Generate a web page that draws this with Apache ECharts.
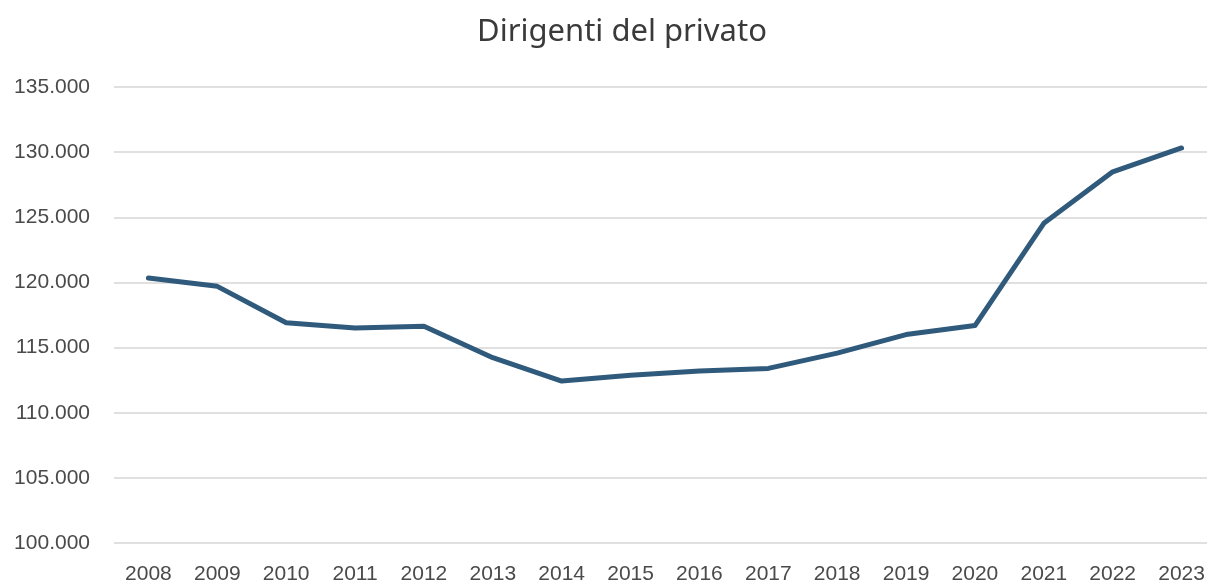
<!DOCTYPE html>
<html lang="it">
<head>
    <meta charset="UTF-8">
    <title>Dirigenti del privato</title>
    <style>
        body {
            margin: 0;
            background: #fff;
            overflow: hidden;
        }
        /* a little wider than the window: the plot area runs past the right edge */
        #chart {
            width: 1216px;
            height: 585px;
        }
    </style>
</head>
<body>
    <div id="chart"></div>
    <script src="https://cdn.jsdelivr.net/npm/echarts@6/dist/echarts.min.js"></script>
    <script>
        const years = ['2008', '2009', '2010', '2011', '2012', '2013', '2014', '2015',
            '2016', '2017', '2018', '2019', '2020', '2021', '2022', '2023'];
        const dirigenti = [120340, 119700, 116900, 116510, 116640, 114220, 112430, 112870,
            113200, 113400, 114570, 116000, 116690, 124540, 128490, 130320];

        // 135000 -> "135.000"
        const fmt = v => String(v).replace(/\B(?=(\d{3})+(?!\d))/g, '.');

        const chart = echarts.init(document.getElementById('chart'));
        chart.setOption({
            animation: false,
            title: {
                text: 'Dirigenti del privato',
                left: 472,
                top: 12,
                textStyle: {
                    fontFamily: 'Noto Sans',
                    fontSize: 31,
                    fontWeight: 'normal',
                    color: '#3a3a3a',
                },
            },
            grid: {
                left: 114,
                top: 87,
                right: 0,
                bottom: 41,
            },
            xAxis: {
                type: 'category',
                data: years,
                boundaryGap: true,
                axisLine: { show: false },
                axisTick: { show: false },
                axisLabel: {
                    margin: 21,
                    fontFamily: 'Liberation Sans',
                    fontSize: 21,
                    color: '#4a4a4a',
                    interval: 0,
                },
            },
            yAxis: {
                type: 'value',
                min: 100000,
                max: 135000,
                interval: 5000,
                axisLine: { show: false },
                axisTick: { show: false },
                axisLabel: {
                    margin: 24,
                    fontFamily: 'Liberation Sans',
                    fontSize: 21,
                    color: '#4a4a4a',
                    formatter: fmt,
                },
                splitLine: {
                    lineStyle: { color: '#e0e0e0', width: 2 },
                },
            },
            series: [
                {
                    type: 'line',
                    data: dirigenti,
                    symbol: 'none',
                    lineStyle: {
                        color: '#305a7c',
                        width: 5,
                        cap: 'round',
                        join: 'round',
                    },
                },
            ],
        });
    </script>
</body>
</html>
